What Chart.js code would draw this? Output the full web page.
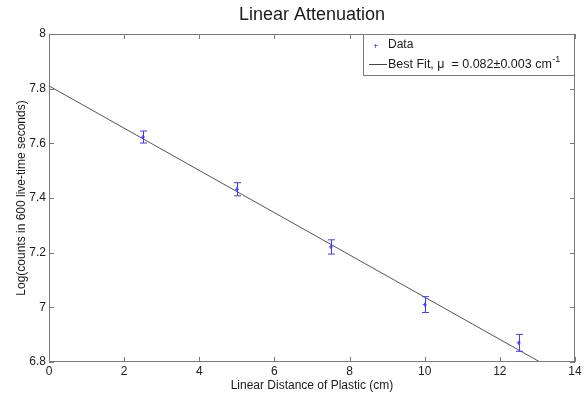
<!DOCTYPE html>
<html>
<head>
<meta charset="utf-8">
<script src="https://cdn.jsdelivr.net/npm/chart.js@4/dist/chart.umd.min.js"></script>
<style>
  body { margin: 0; background: #fff; }
  #wrap { width: 588px; height: 395px; }
</style>
</head>
<body>
<div id="wrap"><canvas id="attenuation"></canvas></div>
<script>
// measured points (distance in cm, log counts, error)
const distances = [2.5, 5, 7.5, 10, 12.5];
const logCounts = [7.623, 7.432, 7.221, 7.010, 6.870];
const logErrors = [0.022, 0.024, 0.026, 0.029, 0.031];

// best fit line end points
const fitX = [0, 14];
const fitY = [7.81, 6.728];

const xTicks = [0, 2, 4, 6, 8, 10, 12, 14];
const yTicks = [6.8, 7, 7.2, 7.4, 7.6, 7.8, 8];
const yTickLabels = ['6.8', '7', '7.2', '7.4', '7.6', '7.8', '8'];

const FONT = "'Liberation Sans', Arial, Helvetica, sans-serif";
const AXIS_COLOR = '#7a7a7a';
const TEXT_COLOR = '#1a1a1a';
const BLUE = 'rgb(60, 60, 255)';

// error bars with small caps
const errorBars = {
  id: 'errorBars',
  afterDatasetsDraw(chart) {
    const {ctx, scales: {x, y}} = chart;
    ctx.save();
    ctx.strokeStyle = BLUE;
    ctx.lineWidth = 1;
    distances.forEach((d, i) => {
      const px = Math.round(x.getPixelForValue(d)) + 0.5;
      const top = y.getPixelForValue(logCounts[i] + logErrors[i]);
      const bot = y.getPixelForValue(logCounts[i] - logErrors[i]);
      ctx.beginPath();
      ctx.moveTo(px, top); ctx.lineTo(px, bot);
      ctx.moveTo(px - 3.5, top); ctx.lineTo(px + 3.5, top);
      ctx.moveTo(px - 3.5, bot); ctx.lineTo(px + 3.5, bot);
      ctx.stroke();
    });
    ctx.restore();
  }
};

// matlab style box with inward ticks, title and legend
const frame = {
  id: 'frame',
  afterDraw(chart) {
    const {ctx, chartArea: a, scales: {x, y}} = chart;
    ctx.save();
    ctx.strokeStyle = AXIS_COLOR;
    ctx.lineWidth = 1;
    ctx.strokeRect(a.left + 0.5, a.top + 0.5, a.right - a.left - 1, a.bottom - a.top - 1);
    ctx.beginPath();
    xTicks.forEach(v => {
      const px = Math.round(x.getPixelForValue(v)) + 0.5;
      ctx.moveTo(px, a.bottom); ctx.lineTo(px, a.bottom - 5);
      ctx.moveTo(px, a.top); ctx.lineTo(px, a.top + 5);
    });
    yTicks.forEach(v => {
      const py = Math.round(y.getPixelForValue(v)) + 0.5;
      ctx.moveTo(a.left, py); ctx.lineTo(a.left + 5, py);
      ctx.moveTo(a.right, py); ctx.lineTo(a.right - 5, py);
    });
    ctx.stroke();

    // title
    ctx.fillStyle = TEXT_COLOR;
    ctx.font = '18px ' + FONT;
    ctx.textAlign = 'center';
    ctx.textBaseline = 'middle';
    ctx.fillText('Linear Attenuation', (a.left + a.right) / 2, 15);

    // legend
    const lx = 363, ly = a.top, lw = a.right - lx, lh = 42;
    ctx.fillStyle = '#fff';
    ctx.fillRect(lx, ly, lw, lh);
    ctx.strokeStyle = AXIS_COLOR;
    ctx.strokeRect(lx + 0.5, ly + 0.5, lw - 1, lh - 1);
    ctx.strokeStyle = 'rgba(60, 60, 255, 0.7)';
    ctx.beginPath();
    ctx.moveTo(374, 45.5); ctx.lineTo(378, 45.5);
    ctx.moveTo(375.5, 44); ctx.lineTo(375.5, 48);
    ctx.stroke();
    ctx.strokeStyle = '#444';
    ctx.beginPath();
    ctx.moveTo(369, 64.5); ctx.lineTo(387, 64.5);
    ctx.stroke();
    ctx.fillStyle = TEXT_COLOR;
    ctx.textAlign = 'left';
    ctx.font = '12px ' + FONT;
    ctx.fillText('Data', 388, 45);
    const label = 'Best Fit, \u03bc  = 0.082\u00b10.003 cm';
    ctx.font = '12.5px ' + FONT;
    ctx.fillText(label, 388, 65);
    const w = ctx.measureText(label).width;
    ctx.font = '9px ' + FONT;
    ctx.fillText('-1', 388 + w + 0.5, 60);
    ctx.restore();
  }
};

new Chart(document.getElementById('attenuation'), {
  type: 'scatter',
  data: {
    datasets: [
      {
        label: 'Data',
        data: distances.map((d, i) => ({x: d, y: logCounts[i]})),
        pointStyle: 'cross',
        pointRadius: 2,
        borderColor: BLUE,
        borderWidth: 1,
        showLine: false
      },
      {
        label: 'Best Fit',
        data: fitX.map((d, i) => ({x: d, y: fitY[i]})),
        showLine: true,
        pointRadius: 0,
        borderColor: '#555',
        borderWidth: 1
      }
    ]
  },
  options: {
    responsive: true,
    maintainAspectRatio: false,
    animation: false,
    layout: { padding: { top: 34, right: 13, left: 0, bottom: 0 } },
    plugins: {
      legend: { display: false },
      title: { display: false },
      tooltip: { enabled: false }
    },
    scales: {
      x: {
        type: 'linear',
        min: 0,
        max: 14,
        afterFit: s => { s.height = 33; },
        afterBuildTicks: s => { s.ticks = xTicks.map(v => ({value: v})); },
        grid: { display: false, drawTicks: false },
        border: { display: false },
        ticks: { padding: 2, color: TEXT_COLOR, font: { family: FONT, size: 12 } },
        title: {
          display: true,
          text: 'Linear Distance of Plastic (cm)',
          color: TEXT_COLOR,
          font: { family: FONT, size: 12 },
          padding: { top: 0, bottom: 2 }
        }
      },
      y: {
        type: 'linear',
        min: 6.8,
        max: 8,
        afterFit: s => { s.width = 49; },
        afterBuildTicks: s => { s.ticks = yTicks.map(v => ({value: v})); },
        grid: { display: false, drawTicks: false },
        border: { display: false },
        ticks: {
          padding: 3,
          color: TEXT_COLOR,
          font: { family: FONT, size: 12 },
          callback: (v, i) => yTickLabels[i]
        },
        title: {
          display: true,
          text: 'Log(counts in 600 live-time seconds)',
          color: TEXT_COLOR,
          font: { family: FONT, size: 12 },
          padding: { top: 14, bottom: 0 }
        }
      }
    }
  },
  plugins: [errorBars, frame]
});
</script>
</body>
</html>
